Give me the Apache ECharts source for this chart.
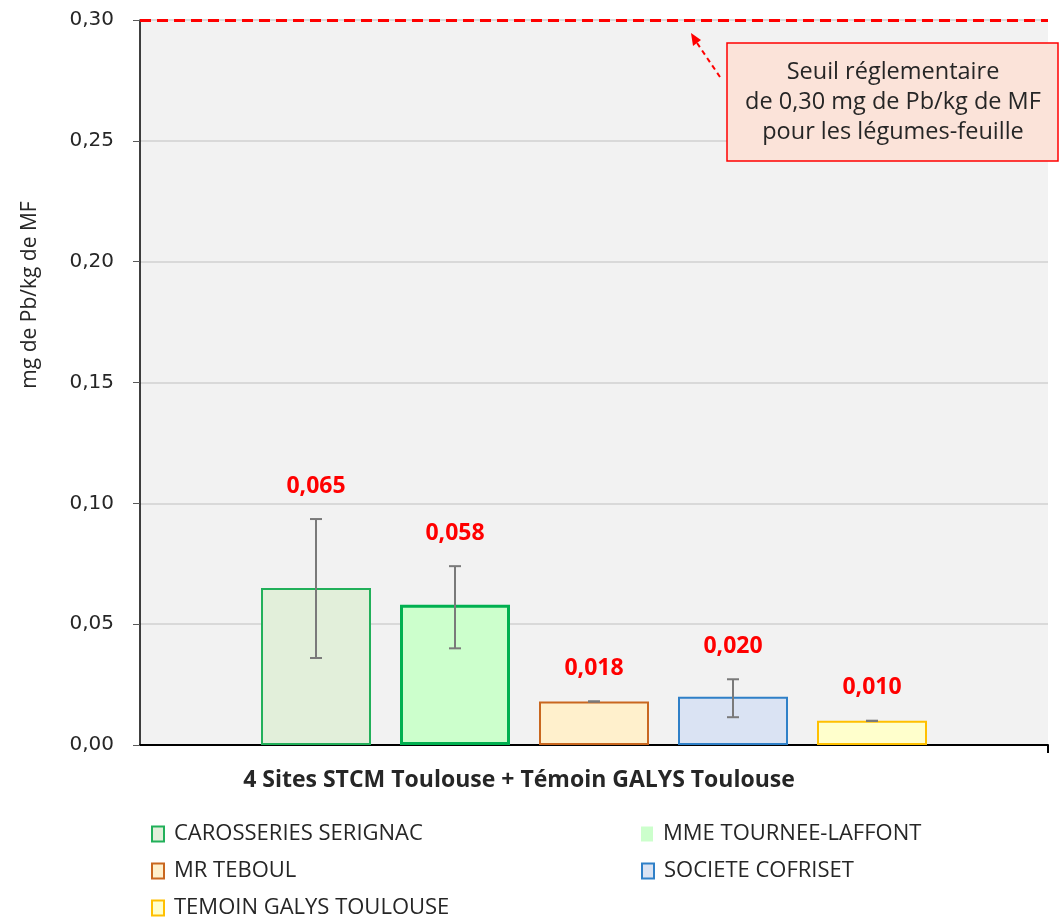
<!DOCTYPE html>
<html><head><meta charset="utf-8">
<script src="https://cdn.jsdelivr.net/npm/echarts@6/dist/echarts.min.js"></script>
<style>html,body{margin:0;padding:0;background:#fff}#c{width:1061px;height:923px}</style>
</head><body><div id="c"></div>
<script>
// ---- data ----
const categories = ['4 Sites STCM Toulouse + Témoin GALYS Toulouse'];
const seriesNames = ['CAROSSERIES SERIGNAC', 'MME TOURNEE-LAFFONT', 'MR TEBOUL', 'SOCIETE COFRISET', 'TEMOIN GALYS TOULOUSE'];
const values = [0.065, 0.058, 0.018, 0.020, 0.010];
const errLow = [0.036, 0.040, 0.018, 0.0115, 0.010];
const errHigh = [0.0935, 0.074, 0.018, 0.0272, 0.010];
const threshold = 0.30;
const yTicks = [0, 0.05, 0.10, 0.15, 0.20, 0.25, 0.30];

// ---- style ----
const fills = ['#e2efda', '#ccffcc', '#fff0cc', '#dae3f3', '#ffffcc'];
const borders = ['#22b05a', '#00b050', '#c9671f', '#2f80c8', '#ffc000'];
const borderW = [2, 3, 2, 2, 2];
const BAR_W = 110, GAP_PX = 29;
const fmt = v => v.toFixed(3).replace('.', ',');

const chart = echarts.init(document.getElementById('c'));

const barSeries = seriesNames.map((n, i) => ({
  name: n, type: 'bar', barWidth: BAR_W, barGap: (GAP_PX / BAR_W * 100) + '%',
  data: [values[i]],
  itemStyle: { color: fills[i], borderColor: borders[i], borderWidth: borderW[i] },
  emphasis: { disabled: true },
  markLine: i === 0 ? {
    silent: true, symbol: 'none', label: { show: false },
    lineStyle: { color: '#ff0000', type: [11, 6], width: 3 },
    data: [{ yAxis: threshold }]
  } : undefined
}));

const errData = values.map((v, i) => [0, errLow[i], errHigh[i], v, i]);

const errSeries = {
  type: 'custom', name: 'err', silent: true, z: 5,
  data: errData,
  encode: { x: 0, y: [1, 2] },
  renderItem: function (params, api) {
    const i = api.value(4);
    const off = (i - 2) * (BAR_W + GAP_PX);
    const lo = api.coord([0, api.value(1)]);
    const hi = api.coord([0, api.value(2)]);
    const vt = api.coord([0, api.value(3)]);
    const x = lo[0] + off;
    const cap = 6;
    const st = { stroke: '#7a7a7a', lineWidth: 2 };
    const topY = Math.min(hi[1], vt[1]);
    return {
      type: 'group', children: [
        { type: 'line', shape: { x1: x, y1: lo[1], x2: x, y2: hi[1] }, style: st },
        { type: 'line', shape: { x1: x - cap, y1: lo[1], x2: x + cap, y2: lo[1] }, style: st },
        { type: 'line', shape: { x1: x - cap, y1: hi[1], x2: x + cap, y2: hi[1] }, style: st },
        { type: 'text', x: x, y: topY - 33, style: { text: fmt(api.value(3)), fill: '#ff0000', font: 'bold 23px "Open Sans"', align: 'center', verticalAlign: 'middle' } }
      ]
    };
  }
};

const legendPos = [[151, 823], [641, 823], [151, 860], [641, 860], [151, 897]];
const legends = seriesNames.map((n, i) => ({
  data: [n], left: legendPos[i][0], top: legendPos[i][1], icon: 'rect', padding: 0,
  itemWidth: 12, itemHeight: 15, selectedMode: false,
  textStyle: { fontFamily: 'Open Sans', fontSize: 22, color: '#262626', padding: [0, 0, 0, 5] },
  itemStyle: i === 1 ? { borderWidth: 0 } : { borderWidth: 2 }
}));

const option = {
  animation: false,
  backgroundColor: '#ffffff',
  grid: { left: 140, right: 13, top: 20, bottom: 178, show: true, backgroundColor: '#f2f2f2', borderWidth: 0 },
  legend: legends,
  xAxis: {
    type: 'category', data: categories,
    axisLine: { lineStyle: { color: '#000', width: 2 } },
    axisTick: { show: false },
    axisLabel: { margin: 24, fontFamily: 'Open Sans', fontWeight: 'bold', fontSize: 23, color: '#262626', padding: [0, 150, 0, 0] }
  },
  yAxis: {
    type: 'value', min: 0, max: 0.30, interval: 0.05,
    axisLine: { show: true, lineStyle: { color: '#000', width: 1.5 } },
    axisTick: { show: true, length: 7, lineStyle: { color: '#595959' } },
    splitLine: { lineStyle: { color: '#d9d9d9', width: 2 } },
    axisLabel: { margin: 26, fontFamily: 'DejaVu Sans', fontSize: 20, color: '#262626', formatter: v => v.toFixed(2).replace('.', ',') }
  },
  series: barSeries.concat([errSeries]),
  graphic: [
    { type: 'text', x: 30, y: 295, rotation: Math.PI / 2, style: { text: 'mg de Pb/kg de MF', font: '21px "Open Sans"', fill: '#262626', align: 'center', verticalAlign: 'middle' } },
    { type: 'rect', shape: { x: 727, y: 43, width: 331, height: 118 }, style: { fill: '#fbe3d9', stroke: '#ff0000', lineWidth: 1.5 }, z: 10 },
    { type: 'text', x: 893, y: 102, z: 11, style: { text: 'Seuil réglementaire\nde 0,30 mg de Pb/kg de MF\npour les légumes-feuille', font: '23.5px "Open Sans"', lineHeight: 30, fill: '#262626', align: 'center', verticalAlign: 'middle' } },
    { type: 'line', shape: { x1: 720, y1: 77, x2: 695, y2: 40 }, style: { stroke: '#ff0000', lineWidth: 2, lineDash: [5, 4] }, z: 10 },
    { type: 'polygon', shape: { points: [[691, 33], [701, 40], [693, 46]] }, style: { fill: '#ff0000' }, z: 10 },
    { type: 'line', shape: { x1: 1048, y1: 745, x2: 1048, y2: 753 }, style: { stroke: '#000', lineWidth: 2 } }
  ]
};
chart.setOption(option);
</script></body></html>
